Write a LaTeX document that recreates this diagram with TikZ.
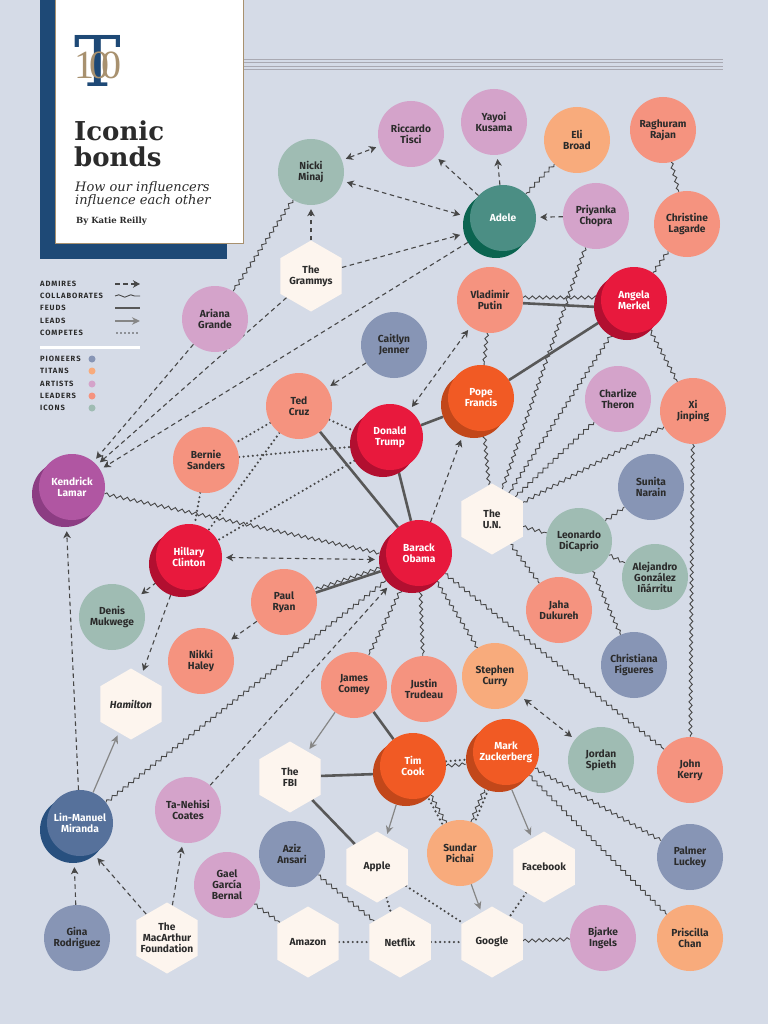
\documentclass[tikz,border=0pt]{standalone}
\usepackage{fontspec}
\setmainfont{DejaVu Serif}
\setsansfont{Fira Sans}
\newfontfamily\logofont{Liberation Serif}
\usetikzlibrary{shapes.geometric,decorations.pathmorphing,arrows.meta}
\pgfdeclarelayer{bg}
\pgfdeclarelayer{edges}
\pgfsetlayers{bg,edges,main}
\definecolor{bgc}{HTML}{D5DBE7}
\definecolor{navy}{HTML}{1E4976}
\definecolor{tanc}{HTML}{A8916F}
\definecolor{rulec}{HTML}{A9A9B2}
\definecolor{txt}{HTML}{2B2B2B}
\definecolor{dk}{HTML}{474747}
\definecolor{fd}{HTML}{585858}
\definecolor{ld}{HTML}{868686}
\definecolor{pioc}{HTML}{8795B5}
\definecolor{titc}{HTML}{F8AB7C}
\definecolor{artc}{HTML}{D4A3CA}
\definecolor{leac}{HTML}{F5937F}
\definecolor{icoc}{HTML}{9FBCB3}
\definecolor{hexc}{HTML}{FDF5EE}
\definecolor{redm}{HTML}{E8193D}
\definecolor{reds}{HTML}{B20F30}
\definecolor{orm}{HTML}{F15A24}
\definecolor{ors}{HTML}{C2471A}
\definecolor{tealm}{HTML}{4B8E84}
\definecolor{teals}{HTML}{0B6450}
\definecolor{purm}{HTML}{B056A2}
\definecolor{purs}{HTML}{8C3D83}
\definecolor{bluem}{HTML}{56719B}
\definecolor{blues}{HTML}{28507F}
\newcommand\emnode[6]{%
  \node[circle,minimum size=66pt,inner sep=0pt,fill=#5] (#1-sh) at (#2-7,#3+7) {};
  \node[emph,fill=#4] (#1) at (#2,#3) {#6};}
\newcommand\hexnode[4]{%
  \node[hexa] (#1) at (#2,#3) {};
  \node[lbl] (#1-t) at (#2,#3) {#4};}
\begin{document}
\begin{tikzpicture}[x=1pt,y=-1pt,
  nd/.style={circle,minimum size=66pt,inner sep=0pt,align=center,
    font=\sffamily\bfseries\fontsize{10.2}{11}\selectfont,text=txt},
  pio/.style={nd,fill=pioc}, tit/.style={nd,fill=titc}, art/.style={nd,fill=artc},
  lea/.style={nd,fill=leac}, ico/.style={nd,fill=icoc},
  emph/.style={nd,text=white},
  hexa/.style={regular polygon,regular polygon sides=6,shape border rotate=30,
    minimum size=71pt,inner sep=0pt,fill=hexc},
  lbl/.style={align=center,inner sep=0pt,font=\sffamily\bfseries\fontsize{10.2}{11}\selectfont,text=txt},
  admire/.style={draw=dk,line width=1.1pt,dash pattern=on 4.5pt off 3.5pt,
    -{Stealth[length=7pt,width=7.5pt,inset=2pt]},shorten >=4pt},
  admire2/.style={admire,{Stealth[length=7pt,width=7.5pt,inset=2pt]}-{Stealth[length=7pt,width=7.5pt,inset=2pt]},shorten <=4pt},
  collab/.style={draw=dk,line width=0.9pt,decorate,decoration={snake,amplitude=1.6pt,segment length=7pt}},
  feud/.style={draw=fd,line width=2.6pt},
  leads/.style={draw=ld,line width=1.2pt,-{Stealth[length=8pt,width=7.5pt]},shorten >=3pt},
  compete/.style={draw=dk,line width=2.4pt,line cap=round,dash pattern=on 0pt off 4.6pt},
  legt/.style={anchor=west,inner sep=0pt,text=txt,font=\sffamily\bfseries\fontsize{7.6}{7.6}\selectfont\addfontfeature{LetterSpace=12}},
]
\useasboundingbox (0,0) rectangle (768,1024);
\begin{pgfonlayer}{bg}
\fill[bgc] (0,0) rectangle (768,1024);
\end{pgfonlayer}

% title card
\fill[navy] (40,0) rectangle (227,259);
\filldraw[fill=white,draw=tanc,line width=0.9pt] (55,-3) rectangle (243,243);
\foreach \yy in {59,62.5,66,69.5} \draw[rulec,line width=0.7pt] (244,\yy) -- (723,\yy);
\node[anchor=base,inner sep=0pt] (logo) at (98,87)
  {\makebox[0pt]{\textcolor{navy}{\rmfamily\fontsize{70}{70}\selectfont T}}\makebox[0pt]{\raisebox{8pt}{\textcolor{tanc}{\logofont\fontsize{40}{40}\selectfont 1\kern-5pt0\kern-8pt0}}}};
\node[anchor=base west,inner sep=0pt,text=txt,font=\rmfamily\bfseries\fontsize{26}{26}\selectfont] (t1) at (74,141) {Iconic};
\node[anchor=base west,inner sep=0pt,text=txt,font=\rmfamily\bfseries\fontsize{26}{26}\selectfont] (t2) at (74,167) {bonds};
\node[anchor=base west,inner sep=0pt,text=txt,font=\rmfamily\itshape\fontsize{13}{13}\selectfont] (s1) at (75,192) {How our influencers};
\node[anchor=base west,inner sep=0pt,text=txt,font=\rmfamily\itshape\fontsize{13}{13}\selectfont] (s2) at (75,205) {influence each other};
\node[anchor=base west,inner sep=0pt,text=txt,font=\rmfamily\bfseries\fontsize{8.5}{8.5}\selectfont] (by) at (76,224) {By Katie Reilly};

% legend
\node[legt] (l1) at (40,284) {ADMIRES};
\node[legt] (l2) at (40,296) {COLLABORATES};
\node[legt] (l3) at (40,308) {FEUDS};
\node[legt] (l4) at (40,321) {LEADS};
\node[legt] (l5) at (40,333) {COMPETES};
\coordinate (a1) at (115,284); \coordinate (b1) at (140,284);
\coordinate (a2) at (115,296); \coordinate (b2) at (140,296);
\coordinate (a3) at (115,308); \coordinate (b3) at (140,308);
\coordinate (a4) at (115,321); \coordinate (b4) at (140,321);
\coordinate (a5) at (117,333); \coordinate (b5) at (140,333);
\draw[admire,shorten >=0pt] (a1) -- (b1);
\draw[collab,decoration={snake,amplitude=1.2pt,segment length=12pt}] (a2) -- (b2);
\draw[feud,line width=2pt] (a3) -- (b3);
\draw[leads,shorten >=0pt] (a4) -- (b4);
\draw[compete,line width=1.8pt,dash pattern=on 0pt off 4pt] (a5) -- (b5);
\coordinate (w1) at (40,347); \coordinate (w2) at (140,347);
\draw[white,line width=3pt] (w1) -- (w2);
\node[legt] (m1) at (40,359) {PIONEERS};
\node[legt] (m2) at (40,371) {TITANS};
\node[legt] (m3) at (40,384) {ARTISTS};
\node[legt] (m4) at (40,396) {LEADERS};
\node[legt] (m5) at (40,408) {ICONS};
\node[circle,fill=pioc,minimum size=7pt,inner sep=0pt] (d1) at (92,359) {};
\node[circle,fill=titc,minimum size=7pt,inner sep=0pt] (d2) at (92,371) {};
\node[circle,fill=artc,minimum size=7pt,inner sep=0pt] (d3) at (92,384) {};
\node[circle,fill=leac,minimum size=7pt,inner sep=0pt] (d4) at (92,396) {};
\node[circle,fill=icoc,minimum size=7pt,inner sep=0pt] (d5) at (92,408) {};

% nodes
\node[art] (tisci) at (411,134) {Riccardo\\Tisci};
\node[art] (kusama) at (494,122) {Yayoi\\Kusama};
\node[tit] (broad) at (577,140) {Eli\\Broad};
\node[lea] (rajan) at (663,130) {Raghuram\\Rajan};
\node[lea] (lagarde) at (687,224) {Christine\\Lagarde};
\node[art] (chopra) at (596,216) {Priyanka\\Chopra};
\emnode{adele}{503}{218}{tealm}{teals}{Adele}
\node[ico] (nicki) at (311,172) {Nicki\\Minaj};
\hexnode{grammys}{311}{276}{The\\Grammys}
\node[art] (ariana) at (215,319) {Ariana\\Grande};
\node[pio] (jenner) at (394,345) {Caitlyn\\Jenner};
\node[lea] (putin) at (490,300) {Vladimir\\Putin};
\emnode{merkel}{634}{300}{redm}{reds}{Angela\\Merkel}
\emnode{pope}{481}{398}{orm}{ors}{Pope\\Francis}
\node[art] (theron) at (618,399) {Charlize\\Theron};
\node[lea] (xi) at (693,411) {Xi\\Jinping};
\node[lea] (cruz) at (299,406) {Ted\\Cruz};
\emnode{trump}{390}{437}{redm}{reds}{Donald\\Trump}
\node[lea] (sanders) at (206,460) {Bernie\\Sanders};
\emnode{kendrick}{72}{487}{purm}{purs}{Kendrick\\Lamar}
\node[pio] (narain) at (651,487) {Sunita\\Narain};
\hexnode{un}{492}{519}{The\\U.N.}
\emnode{obama}{419}{553}{redm}{reds}{Barack\\Obama}
\emnode{clinton}{189}{557}{redm}{reds}{Hillary\\Clinton}
\node[ico] (dicaprio) at (579,541) {Leonardo\\DiCaprio};
\node[ico] (inarritu) at (655,577) {Alejandro\\González\\Iñárritu};
\node[ico] (mukwege) at (112,617) {Denis\\Mukwege};
\node[lea] (ryan) at (284,602) {Paul\\Ryan};
\node[lea] (dukureh) at (559,610) {Jaha\\Dukureh};
\node[pio] (figueres) at (634,665) {Christiana\\Figueres};
\node[lea] (haley) at (201,661) {Nikki\\Haley};
\hexnode{hamilton}{131}{704}{\itshape Hamilton}
\node[lea] (comey) at (354,685) {James\\Comey};
\node[lea] (trudeau) at (424,689) {Justin\\Trudeau};
\node[tit] (curry) at (495,676) {Stephen\\Curry};
\emnode{zuck}{506}{752}{orm}{ors}{Mark\\Zuckerberg}
\emnode{cook}{413}{766}{orm}{ors}{Tim\\Cook}
\node[ico] (spieth) at (601,760) {Jordan\\Spieth};
\node[lea] (kerry) at (690,770) {John\\Kerry};
\hexnode{fbi}{290}{777}{The\\FBI}
\emnode{miranda}{80}{823}{bluem}{blues}{Lin-Manuel\\Miranda}
\node[art] (coates) at (188,810) {Ta-Nehisi\\Coates};
\node[pio] (ansari) at (292,854) {Aziz\\Ansari};
\hexnode{apple}{377}{867}{Apple}
\node[tit] (pichai) at (460,853) {Sundar\\Pichai};
\hexnode{facebook}{544}{867}{Facebook}
\node[pio] (luckey) at (690,857) {Palmer\\Luckey};
\node[art] (bernal) at (227,885) {Gael\\García\\Bernal};
\node[pio] (rodriguez) at (77,938) {Gina\\Rodriguez};
\hexnode{macarthur}{167}{938}{The\\MacArthur\\Foundation}
\hexnode{amazon}{308}{942}{Amazon}
\hexnode{netflix}{400}{942}{Netflix}
\hexnode{google}{492}{942}{Google}
\node[art] (ingels) at (603,938) {Bjarke\\Ingels};
\node[tit] (chan) at (690,938) {Priscilla\\Chan};

% edges
\begin{pgfonlayer}{edges}
\draw[admire2] (nicki) -- (tisci);
\draw[admire] (adele) -- (tisci);
\draw[admire] (adele) -- (kusama);
\draw[admire2] (nicki) -- (adele-sh);
\draw[admire] (grammys) -- (adele-sh);
\draw[admire] (grammys) -- (nicki);
\draw[admire] (adele-sh) -- (kendrick);
\draw[admire] (grammys) -- (kendrick);
\draw[admire] (ariana) -- (kendrick);
\draw[collab] (nicki) -- (ariana);
\draw[collab] (broad) -- (adele);
\draw[admire] (chopra) -- (adele);
\draw[collab] (rajan) -- (lagarde);
\draw[collab] (lagarde) -- (merkel);
\draw[collab] (chopra) -- (un);
\draw[collab,transform canvas={yshift=2.5pt}] (putin) -- (merkel);
\draw[feud,transform canvas={yshift=-1.5pt}] (putin) -- (merkel-sh);
\draw[collab] (putin) -- (pope);
\draw[feud] (pope) -- (merkel);
\draw[feud] (trump) -- (pope-sh);
\draw[admire2] (trump) -- (putin);
\draw[admire] (obama) -- (pope-sh);
\draw[collab] (pope) -- (un);
\draw[collab] (merkel) -- (un);
\draw[collab] (theron) -- (un);
\draw[collab] (xi) -- (un);
\draw[collab] (merkel) -- (xi);
\draw[collab] (xi) -- (kerry);
\draw[collab] (un) -- (dicaprio);
\draw[collab] (un) -- (dukureh);
\draw[collab] (dicaprio) -- (narain);
\draw[collab] (dicaprio) -- (inarritu);
\draw[collab] (dicaprio) -- (figueres);
\draw[admire] (jenner) -- (cruz);
\draw[compete] (cruz) -- (trump-sh);
\draw[compete] (cruz) -- (sanders);
\draw[compete] (sanders) -- (trump-sh);
\draw[compete] (sanders) -- (clinton);
\draw[compete] (cruz) -- (clinton);
\draw[compete] (trump-sh) -- (clinton);
\draw[feud] (cruz) -- (obama);
\draw[feud] (trump) -- (obama);
\draw[collab] (kendrick) -- (obama-sh);
\draw[admire2] (clinton) -- (obama-sh);
\draw[admire] (clinton) -- (mukwege);
\draw[admire] (clinton-sh) -- (hamilton);
\draw[collab,transform canvas={yshift=2.5pt}] (ryan) -- (obama-sh);
\draw[feud,transform canvas={yshift=-1pt}] (ryan) -- (obama-sh);
\draw[admire] (ryan) -- (haley);
\draw[collab] (obama) -- (comey);
\draw[collab] (obama) -- (trudeau);
\draw[collab] (obama) -- (curry);
\draw[collab] (obama) -- (kerry);
\draw[collab] (miranda) -- (obama-sh);
\draw[admire] (coates) -- (obama-sh);
\draw[admire] (miranda) -- (kendrick-sh);
\draw[leads] (miranda) -- (hamilton);
\draw[admire] (rodriguez) -- (miranda-sh);
\draw[admire] (macarthur) -- (miranda-sh);
\draw[admire] (macarthur) -- (coates);
\draw[leads] (comey) -- (fbi);
\draw[feud] (comey) -- (cook);
\draw[feud] (fbi) -- (cook-sh);
\draw[feud] (fbi) -- (apple);
\draw[compete,transform canvas={yshift=2pt}] (cook) -- (zuck-sh);
\draw[collab,transform canvas={yshift=-2.5pt}] (cook) -- (zuck-sh);
\draw[leads] (cook-sh) -- (apple);
\draw[compete,transform canvas={xshift=-2pt}] (cook) -- (pichai);
\draw[collab,transform canvas={xshift=2pt}] (cook) -- (pichai);
\draw[compete,transform canvas={xshift=2pt}] (zuck-sh) -- (pichai);
\draw[collab,transform canvas={xshift=-2pt}] (zuck-sh) -- (pichai);
\draw[leads] (zuck-sh) -- (facebook);
\draw[leads] (pichai) -- (google);
\draw[collab] (zuck) -- (luckey);
\draw[collab] (zuck) -- (chan);
\draw[admire2] (curry) -- (spieth);
\draw[compete] (apple) -- (google);
\draw[compete] (apple) -- (netflix);
\draw[compete] (facebook) -- (google);
\draw[compete] (netflix) -- (google);
\draw[compete] (amazon) -- (netflix);
\draw[collab] (google) -- (ingels);
\draw[collab] (bernal) -- (amazon);
\draw[collab] (ansari) -- (netflix);
\end{pgfonlayer}
\end{tikzpicture}
\end{document}
